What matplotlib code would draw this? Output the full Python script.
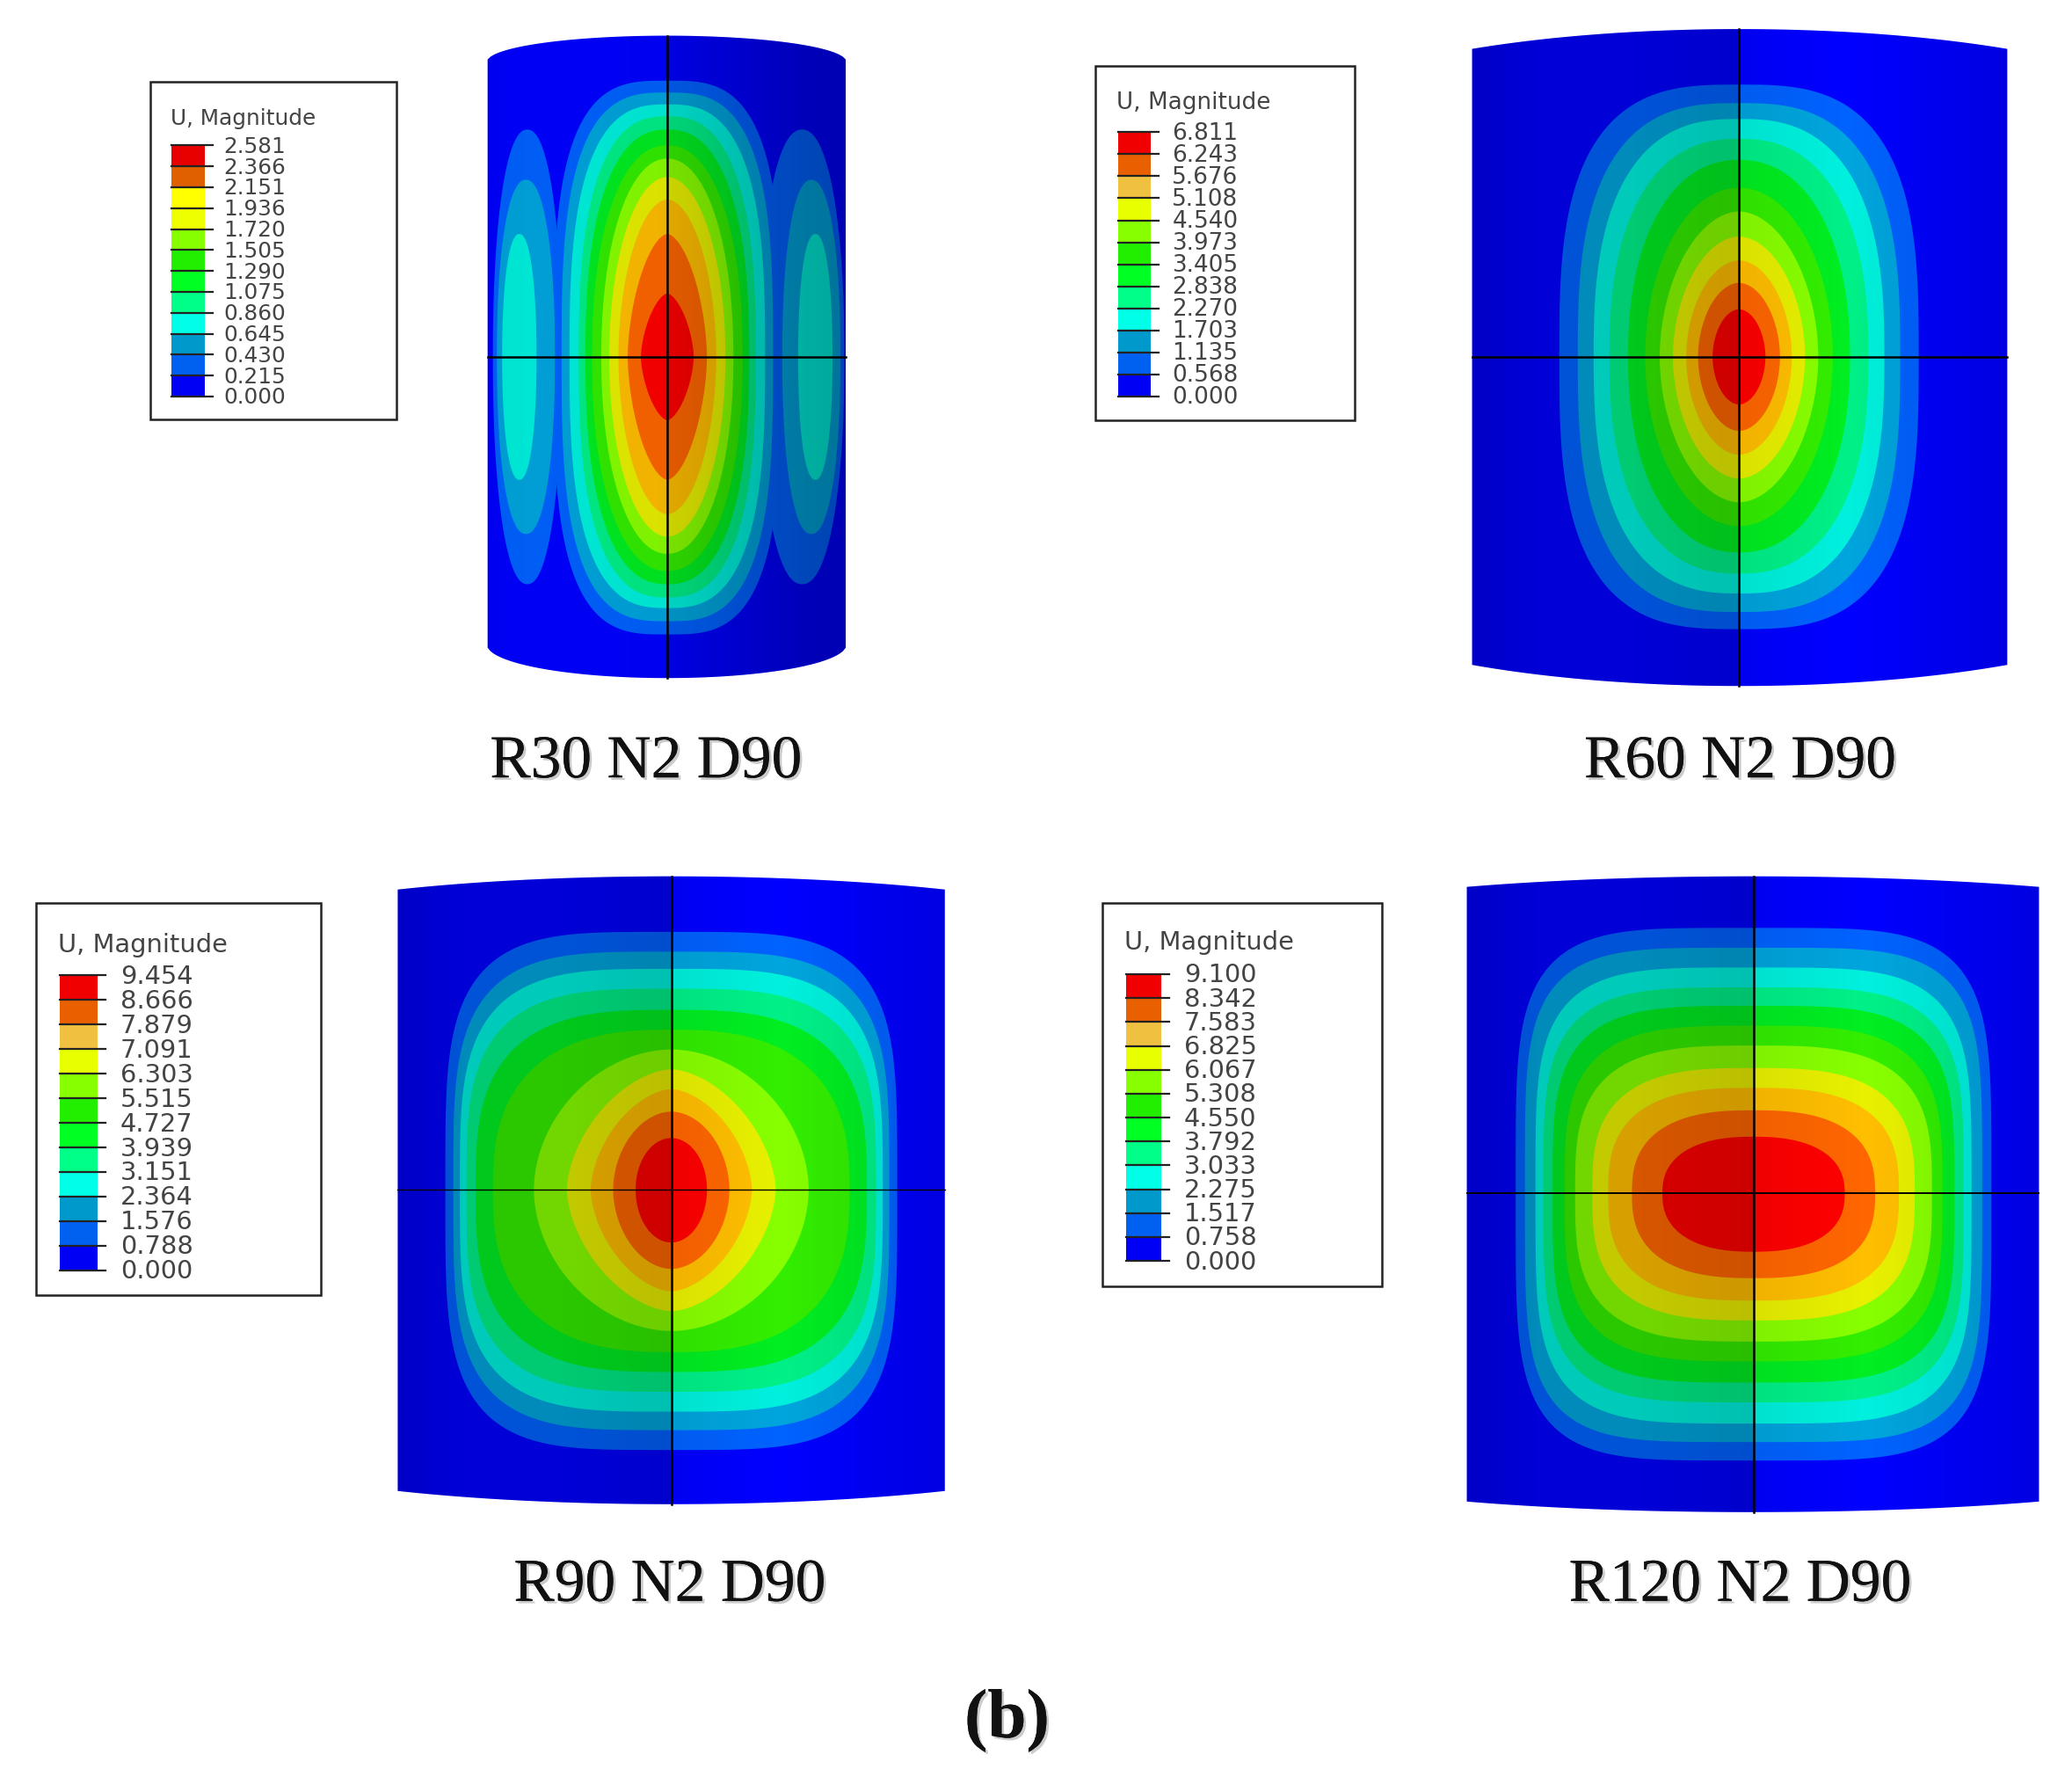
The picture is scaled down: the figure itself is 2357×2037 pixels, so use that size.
import numpy as np
import matplotlib
matplotlib.use("Agg")
import matplotlib.pyplot as plt
import matplotlib.patheffects as pe
from matplotlib.path import Path
from matplotlib.patches import PathPatch, Rectangle

# ---------- legend tick labels ----------
labels_r30 = ["2.581","2.366","2.151","1.936","1.720","1.505","1.290","1.075","0.860","0.645","0.430","0.215","0.000"]
labels_r60 = ["6.811","6.243","5.676","5.108","4.540","3.973","3.405","2.838","2.270","1.703","1.135","0.568","0.000"]
labels_r90 = ["9.454","8.666","7.879","7.091","6.303","5.515","4.727","3.939","3.151","2.364","1.576","0.788","0.000"]
labels_r120 = ["9.100","8.342","7.583","6.825","6.067","5.308","4.550","3.792","3.033","2.275","1.517","0.758","0.000"]

captions = ["R30 N2 D90", "R60 N2 D90", "R90 N2 D90", "R120 N2 D90"]

# band colours from lowest band to highest
legend_colors = ["#0000f5","#0060f0","#0099cc","#00ffe6","#00ff88","#00ff22","#22ee00",
                 "#88ff00","#e8ff00","#f0c040","#e86000","#f00000"]
legend_colors_r30 = ["#0000f5","#0060f0","#0099cc","#00ffe6","#00ff88","#00ff22","#22ee00",
                     "#88ff00","#eeff00","#ffff00","#e06000","#e80000"]
field_colors = ["#0000ff","#0062ff","#00a5dd","#00f0dd","#00f088","#00ee22","#33ee00",
                "#88ff00","#e8f000","#ffbe00","#ff6600","#ff0000"]

# contour extents at each level, lowest contour first (half width, height up, height down, squareness)
w_r30 = [86,80,74,67,62,57,50,44,37,30,20]
u_r30 = [209,200,191,182,172,160,150,136,119,93,48]
d_r30 = [210,200,190,182,172,162,149,136,119,93,48]
n_r30 = [3.2,3.0,2.8,2.6,2.4,2.2,2.1,2.0,1.9,1.7,1.6]
w_r60 = [136,122,110,98,84,71,60,50,40,31,20]
u_r60 = [206,192,180,165,149,128,110,91,73,56,36]
d_r60 = [206,193,179,164,148,128,110,92,74,56,36]
n_r60 = [3.0,2.8,2.6,2.4,2.2,2.0,1.9,1.9,1.9,1.9,1.9]
w_r90 = [171,165,160,155,148,135,104,79,61,44,27]
u_r90 = [195,180,167,152,136,121,106,91,76,59,39]
d_r90 = [197,182,168,153,138,123,107,92,77,60,40]
n_r90 = [4.0,3.8,3.6,3.4,3.0,2.6,1.9,1.7,1.7,1.9,2.0]
w_r120 = [180,173,165,159,152,143,135,122,110,92,69]
u_r120 = [201,186,171,156,142,127,112,95,80,63,43]
d_r120 = [202,188,174,158,143,127,112,96,81,64,44]
n_r120 = [4.5,4.5,4.2,4.0,3.8,3.5,3.2,3.0,2.8,2.6,2.4]

# side lobes of the R30 panel, per level
lobe_levels = [1,2,3]
lobe_x_left = [399,398,393]
lobe_x_right = [607,614,617]
lobe_w_left = [26,22,13]
lobe_w_right = [32,22,13]
lobe_h = [172,134,93]

# panel outlines: left, right, top corner, top middle, bottom corner, bottom middle, cross x, cross y, arc
outlines = {
    "r30": (369,640,45,27,490,513,505,270,0.995),
    "r60": (1114,1519,37,22,503,519,1316,270,0.6),
    "r90": (301,715,673,663,1128,1138,508,900,0.6),
    "r120": (1110,1543,671,663,1136,1144,1327,903,0.6),
}
hline_width = {"r30":1.8,"r60":1.8,"r90":1.0,"r120":1.4}

# darkening across each panel
shade_pos = [0.0,0.12,0.3,0.499,0.501,0.7,0.9,1.0]
shade_r30 = [0.06,0.04,0.05,0.06,0.12,0.2,0.28,0.3]
shade_other = [0.22,0.16,0.16,0.2,0.06,0.0,0.08,0.12]

# legends: box l,r,t,b ; title x,y ; bar l,r,t,b ; label x ; font size
legends = {
    "r30": ((114,300,62,317),(129,90),(130,155,110,300),169,17.8),
    "r60": ((829,1025,50,318),(845,78),(846,871,100,300),887,18.9),
    "r90": ((27,243,683,980),(44,715),(45,74,738,961),91,20.8),
    "r120": ((834,1046,683,973),(851,713),(852,879,737,954),896,20.8),
}
caption_xy = [(489,577),(1317,577),(507,1200),(1317,1200)]

fig = plt.figure(figsize=(23.57,20.37), dpi=100)
ax = fig.add_axes([0,0,1,1])
ax.set_xlim(0,1568); ax.set_ylim(1355,0); ax.axis("off")

def panel_path(o):
    l,r,tc,tm,bc,bm,cx,cy,k = o
    t = np.linspace(-1,1,121)
    sag = (1-np.sqrt(1-(t*k)**2))/(1-np.sqrt(1-k**2))
    xs = (l+r)/2 + t*(r-l)/2
    top = tm + (tc-tm)*sag
    bot = bm - (bm-bc)*sag
    return Path(np.r_[np.c_[xs,top], np.c_[xs[::-1],bot[::-1]], [[xs[0],top[0]]]], closed=True)

def blob(cx,cy,w,u,d,n):
    t = np.linspace(0,2*np.pi,361)
    c, s = np.cos(t), np.sin(t)
    x = cx + w*np.sign(c)*np.abs(c)**(2/n)
    y = cy - np.where(s>0,u,d)*np.sign(s)*np.abs(s)**(2/n)
    return x,y

def fill_clipped(x,y,color,z,patch):
    for art in ax.fill(x,y,color=color,lw=0,zorder=z):
        art.set_clip_path(patch)

def draw_panel(key,w,u,d,n,shade,lobes=False):
    o = outlines[key]
    p = panel_path(o)
    patch = PathPatch(p,fc=field_colors[0],ec="none",zorder=1)
    ax.add_patch(patch)
    cx,cy = o[6],o[7]
    for i in range(len(w)):
        x,y = blob(cx,cy,w[i],u[i],d[i],n[i])
        fill_clipped(x,y,field_colors[i+1],2+i*0.1,patch)
        if lobes and (i+1) in lobe_levels:
            j = lobe_levels.index(i+1)
            for lx,lw_ in ((lobe_x_left[j],lobe_w_left[j]),(lobe_x_right[j],lobe_w_right[j])):
                a,b = blob(lx,cy,lw_,lobe_h[j],lobe_h[j],2.2)
                fill_clipped(a,b,field_colors[i+1],2+i*0.1,patch)
    xx = np.linspace(0,1,400)
    al = np.interp(xx,shade_pos,shade)
    img = np.zeros((1,400,4)); img[...,3] = al
    im = ax.imshow(img,extent=(o[0],o[1],o[5],o[3]),aspect="auto",zorder=5,interpolation="bilinear")
    im.set_clip_path(patch)
    ax.plot([cx,cx],[o[3],o[5]],color="k",lw=1.8,zorder=6)
    ax.plot([o[0],o[1]],[cy,cy],color="k",lw=hline_width[key],zorder=6)
    ax.set_xlim(0,1568); ax.set_ylim(1355,0)

def draw_legend(key,labels,colors):
    box,title,bar,lx,fs = legends[key]
    ax.add_patch(Rectangle((box[0],box[2]),box[1]-box[0],box[3]-box[2],fc="white",ec="#222222",lw=1.8,zorder=1))
    ax.text(title[0],title[1],"U, Magnitude",fontsize=fs,color="#444444",va="center",ha="left",family="DejaVu Sans")
    ys = np.linspace(bar[2],bar[3],len(labels))
    ax.bar(bar[0],ys[:-1]-ys[1:],bottom=ys[1:],width=bar[1]-bar[0],align="edge",
           color=colors[::-1],lw=0,zorder=2)
    for y,lab in zip(ys,labels):
        ax.plot([bar[0],bar[1]+6],[y,y],color="#222222",lw=1.6,zorder=3)
        ax.text(lx,y+1,lab,fontsize=fs,color="#444444",va="center",ha="left",family="DejaVu Sans")

draw_panel("r30",w_r30,u_r30,d_r30,n_r30,shade_r30,lobes=True)
draw_panel("r60",w_r60,u_r60,d_r60,n_r60,shade_other)
draw_panel("r90",w_r90,u_r90,d_r90,n_r90,shade_other)
draw_panel("r120",w_r120,u_r120,d_r120,n_r120,shade_other)

draw_legend("r30",labels_r30,legend_colors_r30)
draw_legend("r60",labels_r60,legend_colors)
draw_legend("r90",labels_r90,legend_colors)
draw_legend("r120",labels_r120,legend_colors)

shadow = [pe.withSimplePatchShadow(offset=(2,-2),shadow_rgbFace="#999999",alpha=0.5), pe.Normal()]
for (x,y),c in zip(caption_xy,captions):
    ax.text(x,y,c,fontsize=50,family="Liberation Serif",ha="center",va="center",color="#111111",path_effects=shadow)
ax.text(762,1302,"(b)",fontsize=57,family="Liberation Serif",weight="bold",ha="center",va="center",color="#111111",path_effects=shadow)

fig.savefig("out.png",dpi=100,facecolor="white")
